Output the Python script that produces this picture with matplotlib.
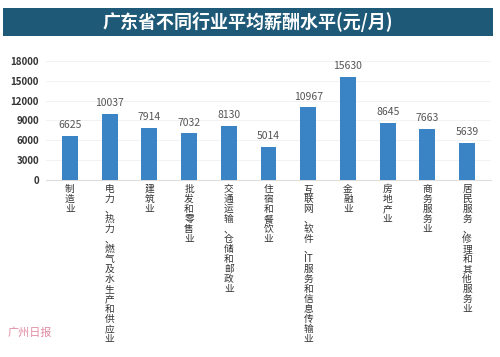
import matplotlib
matplotlib.use("Agg")
import matplotlib.pyplot as plt
from matplotlib.patches import Rectangle

plt.rcParams['font.family'] = ['Noto Sans CJK SC', 'DejaVu Sans']

industries = ["制造业", "电力、热力、燃气及水生产和供应业", "建筑业", "批发和零售业",
              "交通运输、仓储和邮政业", "住宿和餐饮业", "互联网、软件、IT服务和信息传输业",
              "金融业", "房地产业", "商务服务业", "居民服务、修理和其他服务业"]
salary = [6625, 10037, 7914, 7032, 8130, 5014, 10967, 15630, 8645, 7663, 5639]
yticks = [0, 3000, 6000, 9000, 12000, 15000, 18000]


def stack(s):
    # one character per line, keep "IT" together
    return "\n".join(s.replace("IT", "\0")).replace("\0", "IT")


fig = plt.figure(figsize=(5, 3.57), dpi=100)

# title banner
fig.patches.append(Rectangle((0.006, 0.899), 0.98, 0.078, transform=fig.transFigure,
                             facecolor="#1e5a78", edgecolor="none"))
fig.text(0.496, 0.938, "广东省不同行业平均薪酬水平(元/月)", color="white",
         fontsize=13, fontweight="bold", ha="center", va="center")

ax = fig.add_axes([0.092, 0.496, 0.89, 0.333])
x = range(len(industries))
ax.bar(x, salary, width=0.4, color="#3a84c6", zorder=3)
for xi, v in zip(x, salary):
    ax.text(xi, v + 900, str(v), ha="center", va="bottom", fontsize=7.5, color="#555555")

ax.set_ylim(0, 18000)
ax.set_xlim(-0.6, 10.6)
ax.set_yticks(yticks)
ax.set_yticklabels([str(t) for t in yticks], fontsize=7, fontweight="bold", color="#333333")
ax.yaxis.grid(True, color="#f0f0f0", linewidth=0.6, zorder=0)
ax.tick_params(axis="y", length=0, pad=5)
ax.tick_params(axis="x", length=0, pad=3)
ax.set_xticks(list(x))
ax.set_xticklabels([stack(s) for s in industries], fontsize=7, color="#333333",
                   va="top", linespacing=1.0)
for s in ["top", "right", "left"]:
    ax.spines[s].set_visible(False)
ax.spines["bottom"].set_color("#dddddd")
ax.spines["bottom"].set_linewidth(0.8)

# watermark
fig.text(0.015, 0.06, "广州日报", color="#d9708a", fontsize=8, style="italic", alpha=0.8)

fig.savefig("out.png", dpi=100, facecolor="white")
